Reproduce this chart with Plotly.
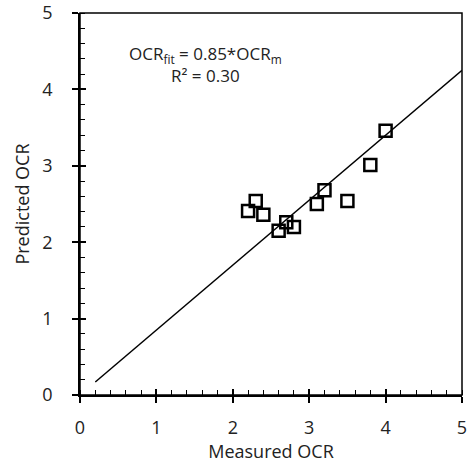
import plotly.graph_objects as go

measured = [2.2, 2.3, 2.4, 2.6, 2.7, 2.8, 3.1, 3.2, 3.5, 3.8, 4.0]
predicted = [2.41, 2.54, 2.36, 2.15, 2.26, 2.20, 2.50, 2.68, 2.54, 3.01, 3.46]
fit_x = [0.2, 5.0]
slope = 0.85
fit_y = [slope * v for v in fit_x]
tick_vals = [0, 1, 2, 3, 4, 5]

FONT = "Open Sans"
TXT = "#222"
fig = go.Figure()
fig.add_trace(go.Scatter(x=fit_x, y=fit_y, mode="lines",
                         line=dict(color="black", width=1.5), showlegend=False))
fig.add_trace(go.Scatter(x=measured, y=predicted, mode="markers",
                         marker=dict(symbol="square-open", size=12,
                                     line=dict(color="black", width=2.5), color="black"),
                         showlegend=False))
# invisible trace on secondary axes so crossing tick marks are drawn
fig.add_trace(go.Scatter(x=[0], y=[0], xaxis="x2", yaxis="y2", mode="markers",
                         marker=dict(opacity=0), showlegend=False, hoverinfo="skip"))

axis_common = dict(range=[0, 5], tickvals=tick_vals, showgrid=False, zeroline=False,
                   showline=True, linecolor="black", linewidth=1.5,
                   ticks="outside", ticklen=6, tickwidth=1.5, tickcolor="black",
                   tickfont=dict(family=FONT, size=18, color=TXT),
                   minor=dict(dtick=0.2, ticks="inside", ticklen=5, tickwidth=1, tickcolor="black"),
                   mirror=False, automargin=False)

fig.update_layout(
    width=472, height=464,
    margin=dict(l=80, r=10, t=13, b=69),
    plot_bgcolor="white", paper_bgcolor="white",
    xaxis=dict(**axis_common, ticklabelstandoff=10,
               title=dict(text="Measured OCR", font=dict(family=FONT, size=18, color=TXT), standoff=0)),
    yaxis=dict(**axis_common, ticklabelstandoff=16,
               title=dict(text="Predicted OCR", font=dict(family=FONT, size=18, color=TXT), standoff=8)),
    xaxis2=dict(range=[0, 5], tickvals=tick_vals, overlaying="x", side="bottom", anchor="y",
                showgrid=False, zeroline=False, showline=False, showticklabels=False,
                ticks="inside", ticklen=6, tickwidth=1.5, tickcolor="black", automargin=False),
    yaxis2=dict(range=[0, 5], tickvals=tick_vals, overlaying="y", side="left", anchor="x",
                showgrid=False, zeroline=False, showline=False, showticklabels=False,
                ticks="inside", ticklen=6, tickwidth=1.5, tickcolor="black", automargin=False),
    shapes=[dict(type="rect", xref="paper", yref="paper", x0=0, y0=0, x1=1, y1=1,
                 line=dict(color="black", width=1.5), layer="above")],
    annotations=[dict(x=1.64, y=4.33, xref="x", yref="y",
                      text="OCR<sub>fit</sub> = 0.85*OCR<sub>m</sub><br>R² = 0.30",
                      showarrow=False, align="center",
                      font=dict(family=FONT, size=17, color=TXT))],
)
fig.write_html("out.html", config={"displayModeBar": False},
               post_script="document.body.style.margin='0';document.body.style.overflow='hidden';")
